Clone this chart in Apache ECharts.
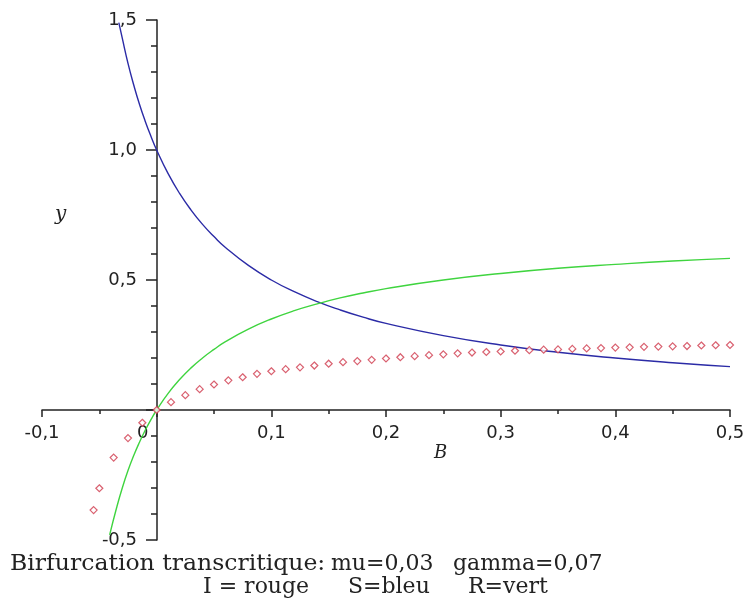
<!DOCTYPE html>
<html>
<head>
<meta charset="utf-8">
<script src="https://cdn.jsdelivr.net/npm/echarts@6/dist/echarts.min.js"></script>
<style>
  html, body { margin: 0; padding: 0; background: #fff; }
  #main { width: 750px; height: 604px; }
</style>
</head>
<body>
<div id="main"></div>
<script>
// S (bleu)
var bS = [-0.033, -0.03, -0.025, -0.02, -0.015, -0.01, -0.005, 0, 0.01, 0.02, 0.03, 0.04, 0.05, 0.06, 0.08,
          0.1, 0.12, 0.14, 0.16, 0.18, 0.2, 0.25, 0.3, 0.35, 0.4, 0.45, 0.5];
var sVals = [1.49, 1.43, 1.333, 1.25, 1.176, 1.111, 1.053, 1.0, 0.909, 0.833, 0.769, 0.714, 0.667, 0.625, 0.556,
             0.5, 0.455, 0.417, 0.385, 0.357, 0.333, 0.286, 0.25, 0.222, 0.2, 0.182, 0.167];

// R (vert)
var bR = [-0.041, -0.035, -0.03, -0.025, -0.02, -0.015, -0.01, -0.005, 0, 0.01, 0.02, 0.03, 0.04, 0.05, 0.06, 0.08,
          0.1, 0.12, 0.14, 0.16, 0.18, 0.2, 0.25, 0.3, 0.35, 0.4, 0.45, 0.5];
var rVals = [-0.48, -0.377, -0.3, -0.233, -0.175, -0.124, -0.078, -0.037, 0, 0.064, 0.117, 0.162, 0.2, 0.233, 0.263, 0.311,
             0.35, 0.382, 0.408, 0.431, 0.45, 0.467, 0.5, 0.525, 0.545, 0.56, 0.573, 0.583];

// I (rouge, points)
var bI = [-0.055, -0.05, -0.0375, -0.025, -0.0125, 0, 0.0125, 0.025, 0.0375, 0.05, 0.0625, 0.075, 0.0875,
          0.1, 0.1125, 0.125, 0.1375, 0.15, 0.1625, 0.175, 0.1875, 0.2, 0.2125, 0.225, 0.2375, 0.25,
          0.2625, 0.275, 0.2875, 0.3, 0.3125, 0.325, 0.3375, 0.35, 0.3625, 0.375, 0.3875, 0.4,
          0.4125, 0.425, 0.4375, 0.45, 0.4625, 0.475, 0.4875, 0.5];
var iVals = [-0.385, -0.301, -0.183, -0.108, -0.049, 0, 0.03, 0.057, 0.08, 0.098, 0.114, 0.126, 0.139,
             0.149, 0.157, 0.164, 0.171, 0.178, 0.184, 0.188, 0.193, 0.198, 0.203, 0.207, 0.211, 0.214,
             0.218, 0.221, 0.223, 0.225, 0.228, 0.23, 0.232, 0.233, 0.235, 0.237, 0.238, 0.24,
             0.241, 0.243, 0.244, 0.245, 0.246, 0.248, 0.249, 0.25];

function pairs(xs, ys){
  var a = [];
  for (var i = 0; i < xs.length; i++) a.push([xs[i], ys[i]]);
  return a;
}
function virgule(v){
  return (Math.round(v * 10) / 10).toFixed(1).replace('.', ',');
}

var axisCol = '#222';
var txtFont = '22px "DejaVu Serif"';

var option = {
  animation: false,
  backgroundColor: '#fff',
  grid: { left: 42, right: 20, top: 20, bottom: 64, containLabel: false, outerBoundsMode: 'none' },
  xAxis: {
    type: 'value',
    min: -0.1, max: 0.5, interval: 0.1,
    position: 'bottom', offset: -130,   // axe croisant y=0
    splitLine: { show: false },
    axisLine: { onZero: false, lineStyle: { color: axisCol, width: 1.5 } },
    axisTick: { length: 7, lineStyle: { color: axisCol, width: 1.5 } },
    minorTick: { show: true, splitNumber: 2, length: 4, lineStyle: { color: axisCol, width: 1.5 } },
    axisLabel: {
      margin: 14,
      color: '#222', fontSize: 18, fontFamily: 'DejaVu Sans',
      formatter: function(v){
        if (Math.abs(v) < 1e-9) return '{z|0}';
        return virgule(v);
      },
      rich: { z: { color: '#222', fontSize: 18, fontFamily: 'DejaVu Sans', padding: [0, 28, 0, 0] } }
    }
  },
  yAxis: {
    type: 'value',
    min: -0.5, max: 1.5, interval: 0.5,
    position: 'left', offset: -115,     // axe croisant x=0
    splitLine: { show: false },
    axisLine: { onZero: false, lineStyle: { color: axisCol, width: 1.5 } },
    axisTick: { length: 11, lineStyle: { color: axisCol, width: 1.5 } },
    minorTick: { show: true, splitNumber: 5, length: 6, lineStyle: { color: axisCol, width: 1.5 } },
    axisLabel: {
      margin: 20,
      color: '#222', fontSize: 18, fontFamily: 'DejaVu Sans',
      formatter: function(v){
        if (Math.abs(v) < 1e-9) return '';
        return virgule(v);
      }
    }
  },
  series: [
    {
      name: 'S', type: 'line', data: pairs(bS, sVals),
      showSymbol: false, smooth: true, z: 3,
      lineStyle: { color: '#2b2ba6', width: 1.4 }
    },
    {
      name: 'R', type: 'line', data: pairs(bR, rVals),
      showSymbol: false, smooth: true, z: 3,
      lineStyle: { color: '#3fd43f', width: 1.4 }
    },
    {
      name: 'I', type: 'scatter', data: pairs(bI, iVals),
      symbol: 'diamond', symbolSize: 7, z: 4,
      itemStyle: { color: '#fff', borderColor: '#cf3a4c', borderWidth: 1.2 }
    }
  ],
  graphic: [
    { type: 'text', left: 55, top: 205, style: { text: 'y', font: 'italic 20px "DejaVu Serif"', fill: '#222' } },
    { type: 'text', left: 434, top: 444, style: { text: 'B', font: 'italic 18px "DejaVu Serif"', fill: '#222' } },
    { type: 'text', x: 10, y: 553, scaleX: 1.07, style: { text: 'Birfurcation transcritique:', font: txtFont, fill: '#222' } },
    { type: 'text', left: 331, top: 553, style: { text: 'mu=0,03', font: txtFont, fill: '#222' } },
    { type: 'text', left: 453, top: 553, style: { text: 'gamma=0,07', font: txtFont, fill: '#222' } },
    { type: 'text', left: 203, top: 576, style: { text: 'I = rouge', font: txtFont, fill: '#222' } },
    { type: 'text', left: 348, top: 576, style: { text: 'S=bleu', font: txtFont, fill: '#222' } },
    { type: 'text', left: 468, top: 576, style: { text: 'R=vert', font: txtFont, fill: '#222' } }
  ]
};

var myChart = echarts.init(document.getElementById('main'));
myChart.setOption(option);
</script>
</body>
</html>
